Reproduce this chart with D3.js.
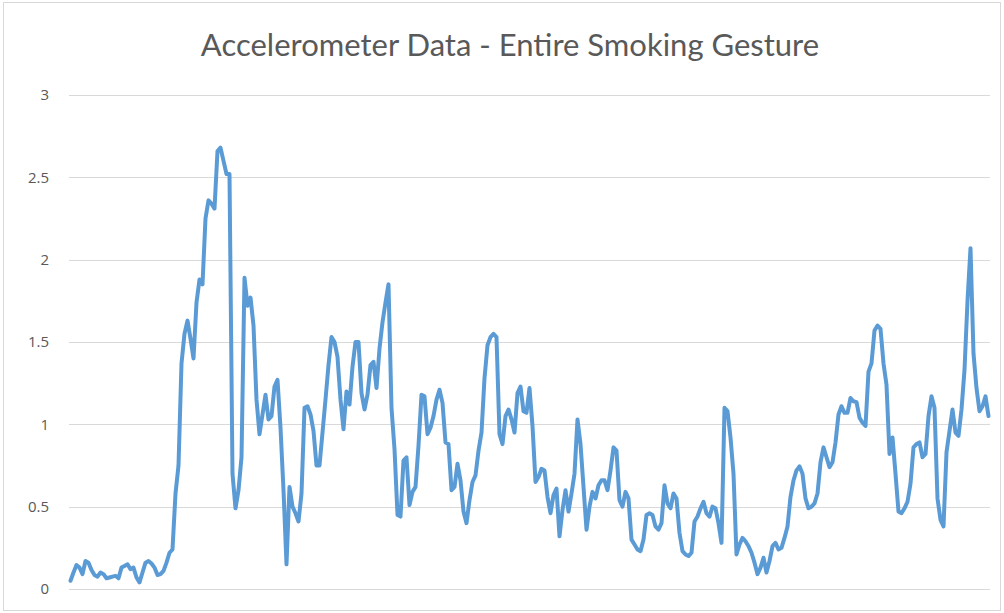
<!DOCTYPE html><html><meta charset="UTF-8">
<title>Accelerometer Data</title>
<style>
  body { margin: 0; background: #fff; overflow: hidden; }
  .grid line { stroke: #d9d9d9; stroke-width: 1px; }
  .ytick { font: 15px "Open Sans", sans-serif; fill: #595959; }
  .title { font: 31px Lato, sans-serif; fill: #595959; }
</style>
<script src="https://cdn.jsdelivr.net/npm/d3@7"></script>
<svg width="1004" height="613"></svg>
<script>

var chartTitle = "Accelerometer Data - Entire Smoking Gesture";
var yTicks = [0, 0.5, 1, 1.5, 2, 2.5, 3];

// accelerometer magnitude, one value per sample
var accel = [
  0.05, 0.10, 0.145, 0.13, 0.09, 0.17, 0.16, 0.115, 0.085, 0.075,
  0.10, 0.09, 0.065, 0.07, 0.075, 0.08, 0.065, 0.13, 0.14, 0.15,
  0.12, 0.13, 0.07, 0.04, 0.10, 0.16, 0.17, 0.155, 0.13, 0.085,
  0.09, 0.11, 0.16, 0.22, 0.24, 0.58, 0.75, 1.37, 1.55, 1.63,
  1.52, 1.40, 1.74, 1.88, 1.85, 2.25, 2.36, 2.34, 2.31, 2.66,
  2.68, 2.60, 2.52, 2.52, 0.70, 0.49, 0.60, 0.80, 1.89, 1.72,
  1.77, 1.60, 1.15, 0.94, 1.06, 1.18, 1.03, 1.05, 1.23, 1.27,
  0.98, 0.60, 0.15, 0.62, 0.50, 0.46, 0.41, 0.58, 1.10, 1.11,
  1.06, 0.96, 0.75, 0.75, 0.95, 1.15, 1.36, 1.53, 1.50, 1.41,
  1.15, 0.97, 1.20, 1.12, 1.35, 1.50, 1.50, 1.19, 1.09, 1.18,
  1.36, 1.38, 1.22, 1.46, 1.62, 1.74, 1.85, 1.10, 0.85, 0.45,
  0.44, 0.78, 0.80, 0.51, 0.59, 0.62, 0.87, 1.18, 1.17, 0.94,
  0.98, 1.05, 1.15, 1.21, 1.13, 0.89, 0.88, 0.60, 0.62, 0.76,
  0.66, 0.47, 0.40, 0.54, 0.65, 0.69, 0.84, 0.95, 1.28, 1.48,
  1.53, 1.55, 1.53, 0.94, 0.88, 1.05, 1.09, 1.03, 0.95, 1.19,
  1.23, 1.08, 1.07, 1.22, 0.99, 0.65, 0.68, 0.73, 0.72, 0.56,
  0.46, 0.57, 0.61, 0.32, 0.48, 0.60, 0.47, 0.58, 0.70, 1.03,
  0.88, 0.62, 0.36, 0.50, 0.59, 0.55, 0.63, 0.66, 0.66, 0.60,
  0.72, 0.86, 0.84, 0.54, 0.50, 0.59, 0.55, 0.30, 0.27, 0.24,
  0.23, 0.30, 0.45, 0.46, 0.45, 0.38, 0.36, 0.40, 0.63, 0.52,
  0.49, 0.58, 0.55, 0.34, 0.23, 0.21, 0.20, 0.22, 0.41, 0.44,
  0.49, 0.53, 0.46, 0.44, 0.50, 0.49, 0.40, 0.28, 1.10, 1.08,
  0.92, 0.70, 0.21, 0.27, 0.31, 0.29, 0.26, 0.22, 0.16, 0.09,
  0.13, 0.19, 0.10, 0.17, 0.26, 0.28, 0.24, 0.25, 0.31, 0.38,
  0.56, 0.66, 0.72, 0.745, 0.70, 0.55, 0.49, 0.50, 0.52, 0.58,
  0.77, 0.86, 0.80, 0.74, 0.77, 0.89, 1.06, 1.11, 1.07, 1.07,
  1.16, 1.14, 1.135, 1.04, 1.01, 0.99, 1.32, 1.37, 1.57, 1.60,
  1.58, 1.37, 1.24, 0.82, 0.92, 0.70, 0.47, 0.46, 0.49, 0.53,
  0.64, 0.86, 0.88, 0.89, 0.80, 0.82, 1.05, 1.17, 1.10, 0.55,
  0.42, 0.38, 0.83, 0.96, 1.09, 0.95, 0.93, 1.09, 1.33, 1.75,
  2.07, 1.43, 1.22, 1.08, 1.11, 1.17, 1.05
];

var svg = d3.select("svg"),
    width = +svg.attr("width"),
    height = +svg.attr("height");

// chart area border
svg.append("rect")
    .attr("x", 3.5).attr("y", 2.5)
    .attr("width", width - 7).attr("height", height - 5)
    .attr("fill", "none")
    .attr("stroke", "#d9d9d9");

var x = d3.scalePoint()
    .domain(d3.range(accel.length))
    .range([69, 990])
    .padding(0.5);

var y = d3.scaleLinear()
    .domain([0, 3])
    .range([589, 95]);

// horizontal gridlines
svg.append("g")
    .attr("class", "grid")
    .selectAll("line")
    .data(yTicks)
    .enter().append("line")
    .attr("x1", 69).attr("x2", 990)
    .attr("y1", d => Math.round(y(d)) + 0.5)
    .attr("y2", d => Math.round(y(d)) + 0.5);

// y tick labels
svg.append("g")
    .selectAll("text")
    .data(yTicks)
    .enter().append("text")
    .attr("class", "ytick")
    .attr("x", 49)
    .attr("y", d => y(d))
    .attr("dy", "0.35em")
    .attr("text-anchor", "end")
    .text(d => d);

svg.append("text")
    .attr("class", "title")
    .attr("x", 510)
    .attr("y", 56)
    .attr("text-anchor", "middle")
    .text(chartTitle);

var line = d3.line()
    .x((d, i) => x(i))
    .y(d => y(d));

svg.append("path")
    .datum(accel)
    .attr("fill", "none")
    .attr("stroke", "#5b9bd5")
    .attr("stroke-width", 4)
    .attr("stroke-linejoin", "round")
    .attr("stroke-linecap", "round")
    .attr("d", line);

</script>
</html>
